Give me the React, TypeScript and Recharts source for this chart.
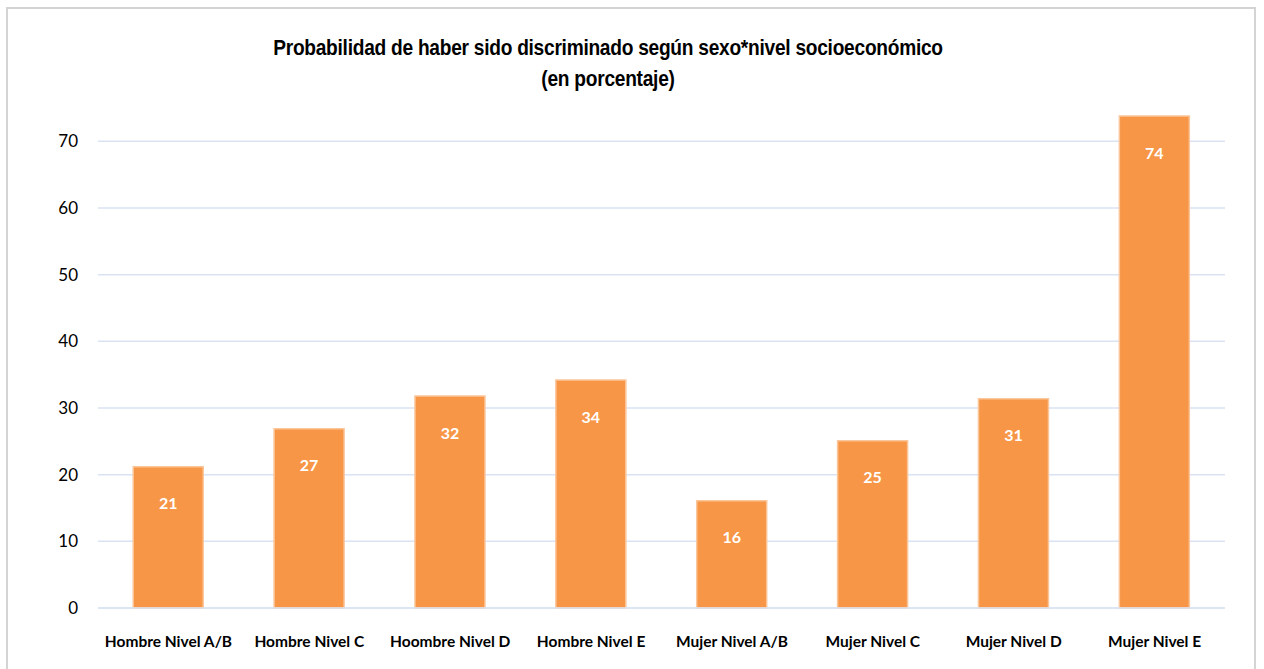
import { BarChart, Bar, XAxis, YAxis, CartesianGrid, LabelList } from 'recharts'

const categories = [
  'Hombre Nivel A/B',
  'Hombre Nivel C',
  'Hoombre  Nivel D',
  'Hombre Nivel E',
  'Mujer Nivel A/B',
  'Mujer Nivel C',
  'Mujer Nivel D',
  'Mujer Nivel E',
]
const values = [21.2, 26.9, 31.8, 34.2, 16.1, 25.1, 31.4, 73.8]
const labels = ['21', '27', '32', '34', '16', '25', '31', '74']
const yTicks = [0, 10, 20, 30, 40, 50, 60, 70]

const data = categories.map((name, i) => ({ name, value: values[i], label: labels[i] }))

const BarLabel = (props: any) => {
  const { x, y, width, index } = props
  return (
    <text
      x={x + width / 2}
      y={y + 36}
      textAnchor="middle"
      dominantBaseline="central"
      fill="#fff"
      fontWeight="bold"
      fontSize={16}
      fontFamily="Lato, 'Open Sans', sans-serif"
    >
      {labels[index]}
    </text>
  )
}

export default function App() {
  return (
    <div style={{ position: 'absolute', left: 0, top: 0, width: 1264, height: 669, overflow: 'hidden', background: '#fff' }}>
      <div
        style={{
          position: 'absolute',
          left: 6,
          top: 7,
          width: 1246,
          height: 700,
          border: '2px solid #d4d4d4',
        }}
      />
      <div
        style={{
          position: 'absolute',
          left: 0,
          width: 1216,
          top: 32,
          textAlign: 'center',
          fontFamily: "'Liberation Sans Narrow', 'Arial Narrow', 'Liberation Sans', sans-serif",
          fontWeight: 'bold',
          fontSize: 22,
          lineHeight: '31px',
          color: '#000',
          transform: 'scaleX(0.87)',
          transformOrigin: '608px 0',
          letterSpacing: '-0.3px',
        }}
      >
        <div>Probabilidad de haber sido discriminado según sexo*nivel socioeconómico</div>
        <div>(en porcentaje)</div>
      </div>
      <BarChart
        width={1264}
        height={669}
        data={data}
        margin={{ top: 108, right: 39, left: 20, bottom: 16 }}
        barCategoryGap="25%"
        style={{ position: 'absolute', left: 0, top: 0 }}
      >
        <CartesianGrid vertical={false} stroke="#d9e3f3" strokeWidth={1.5} horizontalValues={yTicks} />
        <XAxis
          dataKey="name"
          height={45}
          axisLine={{ stroke: '#d9e3f3', strokeWidth: 1.5 }}
          tickLine={false}
          interval={0}
          tick={{ fill: '#000', fontSize: 15.5, fontWeight: 'bold', fontFamily: 'Lato, sans-serif' }}
          tickMargin={22}
        />
        <YAxis
          width={78}
          domain={[0, 75]}
          ticks={yTicks}
          axisLine={false}
          tickLine={false}
          tick={{ fill: '#000', fontSize: 17, fontFamily: 'Lato, sans-serif' }}
          tickMargin={14}
        />
        <Bar
          dataKey="value"
          fill="#f79646"
          stroke="#fbc59a"
          strokeWidth={1.5}
          isAnimationActive={false}
        >
          <LabelList dataKey="label" content={<BarLabel />} />
        </Bar>
      </BarChart>
    </div>
  )
}
